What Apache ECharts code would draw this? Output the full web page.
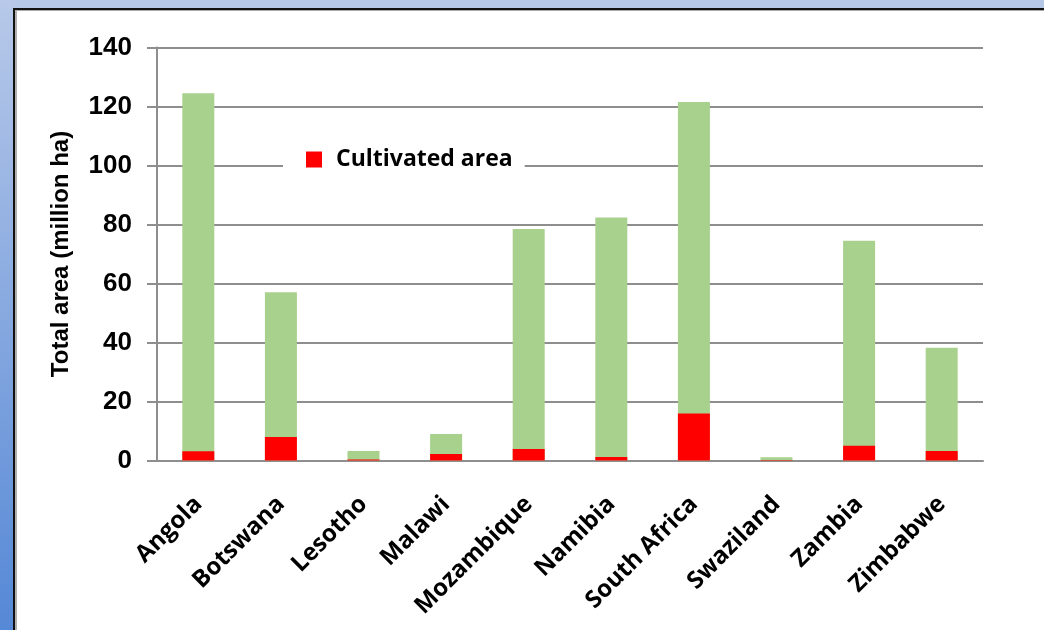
<!DOCTYPE html>
<html>
<head>
<meta charset="utf-8">
<script src="https://cdn.jsdelivr.net/npm/echarts@6/dist/echarts.min.js"></script>
<style>
  html, body { margin: 0; padding: 0; background: #fff; }
  #chart { width: 1044px; height: 630px; }
</style>
</head>
<body>
<div id="chart"></div>
<script>
// values (million ha)
var countries = ['Angola', 'Botswana', 'Lesotho', 'Malawi', 'Mozambique', 'Namibia', 'South Africa', 'Swaziland', 'Zambia', 'Zimbabwe']
var totalArea = [124.5, 57, 3.2, 9, 78.5, 82.4, 121.5, 1.1, 74.5, 38.2]
var cultivated = [3.1, 8, 0.3, 2.2, 3.9, 1.2, 15.9, 0.2, 5, 3.2]
var yTicks = { min: 0, max: 140, step: 20 }

var myChart = echarts.init(document.getElementById('chart'))

var option = {
  backgroundColor: '#fff',
  animation: false,
  // frame round the slide: blue strips on top and left
  graphic: [
    { type: 'rect', left: 0, top: 0, shape: { width: 1044, height: 8 }, style: { fill: '#b6c8e8' }, z: 0 },
    {
      type: 'rect', left: 0, top: 0, shape: { width: 13, height: 630 },
      style: { fill: new echarts.graphic.LinearGradient(0, 0, 0, 1, [{ offset: 0, color: '#b8c9e9' }, { offset: 1, color: '#5588d6' }]) },
      z: 0
    },
    { type: 'rect', left: 13, top: 8, shape: { width: 1031, height: 2 }, style: { fill: '#111' }, z: 1 },
    { type: 'rect', left: 13, top: 8, shape: { width: 2, height: 622 }, style: { fill: '#111' }, z: 1 },
    { type: 'rect', left: 15, top: 10, shape: { width: 1029, height: 1 }, style: { fill: '#aaa' }, z: 1 },
    { type: 'rect', left: 15, top: 10, shape: { width: 2, height: 620 }, style: { fill: '#b0b0b0' }, z: 1 }
  ],
  grid: { left: 157, right: 61, top: 47.5, bottom: 169.5 },
  legend: {
    data: ['Cultivated area'],
    left: 283,
    top: 140,
    padding: [8, 12, 8, 23],
    backgroundColor: '#fff',
    itemWidth: 16,
    itemHeight: 16,
    icon: 'rect',
    textStyle: { fontFamily: 'Open Sans', fontWeight: 'bold', fontSize: 23, color: '#000', padding: [0, 0, 0, 9] }
  },
  xAxis: {
    type: 'category',
    data: countries,
    axisLine: { lineStyle: { color: '#8e8e8e', width: 2 } },
    axisTick: { length: 10, lineStyle: { color: '#8e8e8e', width: 2 } },
    axisLabel: {
      rotate: 45,
      margin: 40,
      interval: 0,
      fontFamily: 'Open Sans',
      fontWeight: 'bold',
      fontSize: 24,
      color: '#000'
    }
  },
  yAxis: {
    type: 'value',
    min: yTicks.min,
    max: yTicks.max,
    interval: yTicks.step,
    name: 'Total area (million ha)',
    nameLocation: 'middle',
    nameGap: 84,
    nameTextStyle: { fontFamily: 'Liberation Sans', fontWeight: 'bold', fontSize: 24, color: '#000' },
    axisLine: { show: true, lineStyle: { color: '#8e8e8e', width: 2 } },
    axisTick: { show: true, length: 10, lineStyle: { color: '#8e8e8e', width: 2 } },
    splitLine: { lineStyle: { color: '#8e8e8e', width: 2 } },
    axisLabel: {
      margin: 25,
      fontFamily: 'Liberation Sans',
      fontWeight: 'bold',
      fontSize: 26,
      color: '#000'
    }
  },
  series: [
    {
      name: 'Total area',
      type: 'bar',
      data: totalArea,
      barWidth: 32,
      barGap: '-100%',
      itemStyle: { color: '#a9d18e' }
    },
    {
      name: 'Cultivated area',
      type: 'bar',
      data: cultivated,
      barWidth: 32,
      itemStyle: { color: '#ff0000' }
    }
  ]
}

myChart.setOption(option)
</script>
</body>
</html>
